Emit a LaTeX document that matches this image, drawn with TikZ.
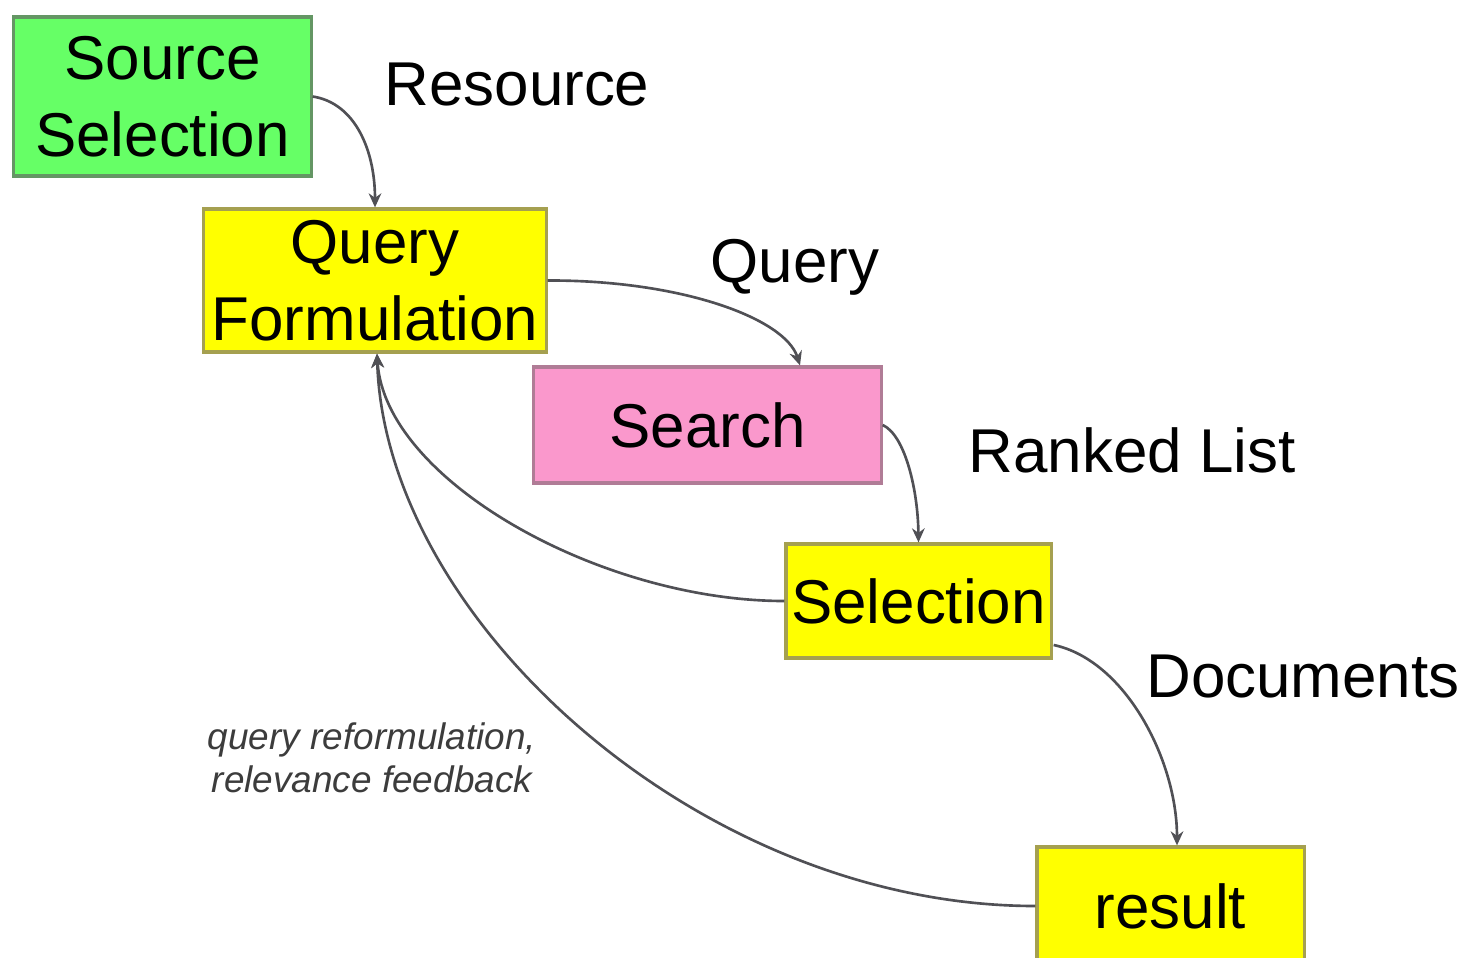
\documentclass[tikz,border=0pt]{standalone}
\usepackage{fontspec}
\setmainfont{Liberation Sans}
\usetikzlibrary{arrows.meta,calc}
\definecolor{boxgreen}{RGB}{102,255,102}
\definecolor{boxgreenline}{RGB}{100,150,100}
\definecolor{boxyellow}{RGB}{255,255,0}
\definecolor{boxyellowline}{RGB}{165,160,80}
\definecolor{boxpink}{RGB}{250,152,204}
\definecolor{boxpinkline}{RGB}{176,124,150}
\definecolor{linkgray}{RGB}{80,80,85}
\definecolor{notegray}{RGB}{60,60,60}
\tikzset{
  procbox/.style={draw, line width=0.9pt, inner sep=0pt, align=center,
    font=\fontsize{17.6pt}{22pt}\selectfont},
  greenbox/.style={procbox, fill=boxgreen, draw=boxgreenline},
  yellowbox/.style={procbox, fill=boxyellow, draw=boxyellowline},
  pinkbox/.style={procbox, fill=boxpink, draw=boxpinkline},
  flowlabel/.style={anchor=base, inner sep=0pt, font=\fontsize{17.6pt}{22pt}\selectfont},
  notelabel/.style={anchor=base, inner sep=0pt, text=notegray, align=center,
    font=\fontsize{10.5pt}{12pt}\selectfont\itshape},
  link/.style={draw=linkgray, line width=0.75pt, -{Stealth[length=4pt,width=3.6pt]}},
}
\begin{document}
\begin{tikzpicture}[x=0.01cm, y=-0.01cm]
\useasboundingbox (0,0) rectangle (1466,957);
\fill[white] (0,0) rectangle (1466,957);

\node[greenbox, minimum width=2.97cm, minimum height=1.59cm] (src) at (162.5,96.5) {Source\\Selection};
\node[yellowbox, minimum width=3.42cm, minimum height=1.43cm] (qf) at (375,280.5) {Query\\Formulation};
\node[pinkbox, minimum width=3.47cm, minimum height=1.16cm] (search) at (707.5,425) {Search};
\node[yellowbox, minimum width=2.65cm, minimum height=1.14cm] (sel) at (918.5,601) {Selection};
\node[yellowbox, minimum width=2.67cm, minimum height=1.18cm] (res) at (1170.5,906) {result};

\node[flowlabel] (lres) at (517,105) {Resource};
\node[flowlabel] (lquery) at (795,282) {Query};
\node[flowlabel] (lrank) at (1132,472) {Ranked List};
\node[flowlabel] (ldocs) at (1303,697) {Documents};
\node[notelabel] (lnote) at (372,792) {query reformulation,\\relevance feedback};

\coordinate (qfin) at ($(qf.south)+(2,0)$);
\coordinate (searchin) at ($(search.north)+(92.5,0)$);
\coordinate (selout) at ($(sel.east)+(1,44)$);
\coordinate (resin) at ($(res.north)+(6.5,0)$);

\path[link] (src.east) .. controls (355,103) and (375,150) .. (qf.north);
\path[link] (qf.east) .. controls (680,280) and (785,318) .. (searchin);
\path[link] (search.east) .. controls (905,435) and (918,490) .. (sel.north);
\path[link] (selout) .. controls (1125,660) and (1177,760) .. (resin);
\path[link] (sel.west) .. controls (600,601) and (385,480) .. (qfin);
\path[link] (res.west) .. controls (700,906) and (385,620) .. (qfin);
\end{tikzpicture}
\end{document}
